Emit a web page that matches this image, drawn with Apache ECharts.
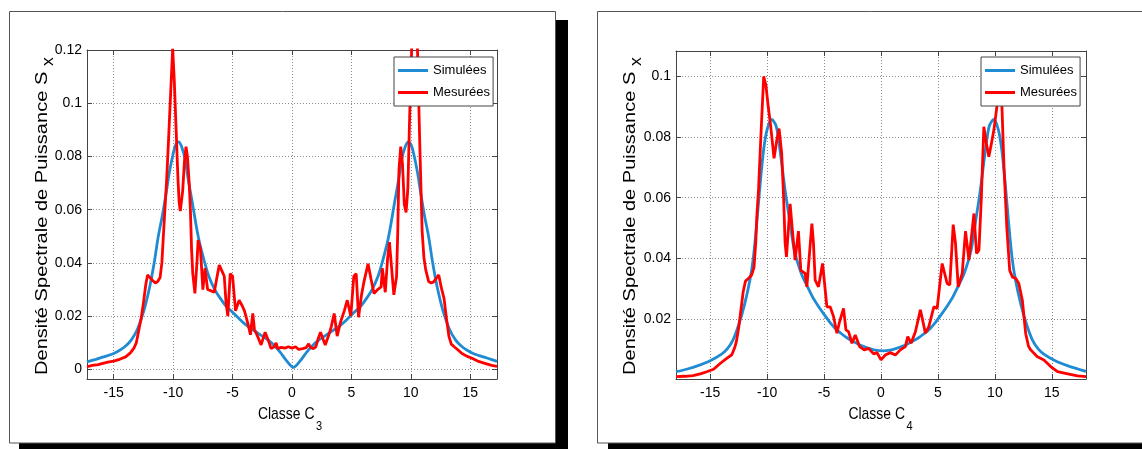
<!DOCTYPE html>
<html>
<head>
<meta charset="utf-8">
<script src="https://cdn.jsdelivr.net/npm/echarts@6/dist/echarts.min.js"></script>
<style>
html,body{margin:0;padding:0;background:#fff;}
#c{width:1142px;height:449px;}
</style>
</head>
<body>
<div id="c"></div>
<script>
// ---------- DATA ----------
const seriesNames = ['Simulées', 'Mesurées'];
const xTitleMain = 'Classe C';
const xTitleSubs = ['3', '4'];
const yTitleMain = 'Densité Spectrale de Puissance S';
const yTitleSub = 'x';

// Panel 1 (Classe C3) - simulated
const simX1 = [-17.25,-16.5,-16,-15.5,-15,-14.5,-14,-13.5,-13,-12.5,
  -12,-11.6,-11.25,-10.9,-10.6,-10.3,-10,-9.8,-9.56,-9.3,
  -9,-8.72,-8.4,-8.1,-7.8,-7.4,-7,-6.5,-6,-5.5,
  -5,-4.5,-4,-3.5,-3,-2.5,-2,-1.5,-1,-0.5,
  0.12,
  0.74,1.24,1.74,2.24,2.74,3.24,3.74,4.24,4.74,5.24,
  5.74,6.24,6.74,7.24,7.64,8.04,8.34,8.64,8.96,9.24,
  9.54,9.8,10.04,10.24,10.54,10.84,11.14,11.49,11.84,12.24,
  12.74,13.24,13.74,14.24,14.74,15.24,15.74,16.24,16.74,17.25];
const simY1 = [0.0028,0.0038,0.0045,0.0052,0.006,0.0072,0.0088,0.0112,0.0152,0.0215,
  0.0305,0.040,0.050,0.058,0.066,0.0745,0.081,0.0842,0.0855,0.0838,
  0.079,0.071,0.063,0.055,0.048,0.041,0.035,0.030,0.0265,0.0235,
  0.0215,0.0193,0.0172,0.0155,0.014,0.0125,0.011,0.009,0.0065,0.0035,
  0.0008,
  0.0035,0.0065,0.009,0.011,0.0125,0.014,0.0155,0.0172,0.0193,0.0215,
  0.0235,0.0265,0.030,0.035,0.041,0.048,0.055,0.063,0.071,0.079,
  0.0838,0.0855,0.0842,0.081,0.0745,0.066,0.058,0.050,0.040,0.0305,
  0.0215,0.0152,0.0112,0.0088,0.0072,0.006,0.0052,0.0045,0.0038,0.003];

// Panel 1 - measured
const mesX1 = [-17.25,-16.8,-16.3,-16.0,-15.5,-15.0,-14.5,-14.0,-13.6,-13.3,
  -13.1,-12.9,-12.7,-12.5,-12.3,-12.15,-11.95,-11.75,-11.5,-11.3,
  -11.1,-10.95,-10.8,-10.55,-10.4,-10.2,-10.04,-9.9,-9.75,-9.6,
  -9.5,-9.4,-9.3,-9.2,-9.05,-8.92,-8.8,-8.65,-8.55,-8.45,
  -8.35,-8.17,-8.0,-7.9,-7.7,-7.5,-7.32,-7.1,-6.8,-6.54,
  -6.3,-6.12,-5.9,-5.7,-5.55,-5.4,-5.2,-5.0,-4.75,-4.45,
  -4.2,-4.0,-3.7,-3.5,-3.3,-3.16,-2.9,-2.6,-2.26,-2.0,
  -1.76,-1.5,-1.34,-1.2,-0.9,-0.6,-0.3,0.0,0.3,0.56,
  0.9,1.2,1.4,1.55,1.8,2.0,2.2,2.4,2.6,2.8,
  3.1,3.3,3.55,3.8,4.1,4.4,4.65,4.95,5.2,5.4,
  5.6,5.85,6.05,6.4,6.65,6.9,7.2,7.5,7.6,7.85,
  8.05,8.2,8.33,8.57,8.8,8.9,9.0,9.15,9.3,9.45,
  9.6,9.75,9.9,10.1,10.3,10.55,10.75,10.95,11.1,11.25,
  11.5,11.7,11.9,12.1,12.35,12.55,12.8,13.0,13.2,13.4,
  13.65,14.0,14.3,14.7,15.15,15.7,16.3,16.8,17.25];
const mesY1 = [0.0010,0.0015,0.0018,0.0022,0.0027,0.0031,0.0038,0.0047,0.0062,0.0080,
  0.0100,0.0145,0.0190,0.0250,0.0320,0.0355,0.0345,0.0335,0.0325,0.0330,
  0.0345,0.0400,0.0520,0.0710,0.0850,0.1050,0.1205,0.1080,0.0900,0.0720,
  0.0630,0.0595,0.0600,0.0670,0.0780,0.0837,0.0800,0.0700,0.0600,0.0450,
  0.0360,0.0286,0.0400,0.0486,0.0450,0.0300,0.0380,0.0300,0.0295,0.0290,
  0.0350,0.0392,0.0370,0.0350,0.0250,0.0200,0.0360,0.0350,0.0220,0.0260,
  0.0240,0.0220,0.0170,0.0130,0.0210,0.0150,0.0125,0.0092,0.0140,0.0110,
  0.0078,0.0085,0.0100,0.0078,0.0083,0.0080,0.0085,0.0080,0.0085,0.0075,
  0.0078,0.0082,0.0096,0.0083,0.0078,0.0085,0.0115,0.0140,0.0115,0.0092,
  0.0130,0.0160,0.0210,0.0125,0.0180,0.0220,0.0260,0.0200,0.0350,0.0360,
  0.0196,0.0280,0.0328,0.0397,0.0340,0.0285,0.0300,0.0310,0.0380,0.0290,
  0.0420,0.0478,0.0485,0.0280,0.0350,0.0520,0.0750,0.0837,0.0770,0.0620,
  0.0590,0.0680,0.0950,0.1250,0.1400,0.1220,0.0850,0.0520,0.0420,0.0375,
  0.0330,0.0325,0.0328,0.0340,0.0355,0.0310,0.0265,0.0190,0.0125,0.0095,
  0.0085,0.0072,0.0060,0.0050,0.0042,0.0030,0.0022,0.0015,0.0011];

// Panel 2 (Classe C4) - simulated
const simX2 = [-18,-17,-16,-15,-14,-13.5,-13,-12.5,-12,-11.5,
  -11.2,-10.9,-10.6,-10.3,-10,-9.6,-9.2,-8.86,-8.42,-8,
  -7.6,-7,-6.5,-6,-5.5,-5,-4.5,-4,-3.5,-3,
  -2.5,-2,-1.5,-1,-0.5,0.15,
  0.8,1.3,1.8,2.3,2.8,3.3,3.8,4.3,4.8,5.3,
  5.8,6.3,6.8,7.3,7.9,8.3,8.72,9.16,9.5,9.9,
  10.3,10.6,10.9,11.2,11.5,11.8,12.3,12.8,13.3,13.8,
  14.3,15.3,16.3,17.3,18];
const simY2 = [0.0026,0.0035,0.0047,0.0062,0.0084,0.0101,0.0130,0.0180,0.0245,0.0330,
  0.0405,0.0520,0.0650,0.0760,0.0825,0.0858,0.0835,0.0755,0.0625,0.0520,
  0.0425,0.0350,0.0310,0.0272,0.0242,0.0215,0.0190,0.0168,0.0152,0.0138,
  0.0127,0.0117,0.0109,0.0102,0.0097,0.0095,
  0.0097,0.0102,0.0109,0.0117,0.0127,0.0138,0.0152,0.0168,0.0190,0.0215,
  0.0242,0.0272,0.0310,0.0350,0.0425,0.0520,0.0625,0.0755,0.0835,0.0858,
  0.0825,0.0760,0.0650,0.0520,0.0405,0.0330,0.0245,0.0180,0.0130,0.0101,
  0.0084,0.0062,0.0047,0.0035,0.0027];

// Panel 2 - measured
const mesX2 = [-18.0,-17.2,-16.5,-15.8,-15.3,-14.7,-14.1,-13.55,-13.1,-12.85,
  -12.7,-12.5,-12.3,-12.1,-11.9,-11.6,-11.36,-11.15,-11.0,-10.9,
  -10.75,-10.55,-10.3,-10.1,-9.9,-9.68,-9.39,-9.15,-8.95,-8.72,
  -8.55,-8.42,-8.3,-8.19,-7.98,-7.75,-7.54,-7.25,-7.04,-6.66,
  -6.51,-6.07,-5.93,-5.78,-5.49,-5.13,-4.75,-4.46,-4.17,-3.87,
  -3.67,-3.29,-3.08,-2.85,-2.55,-2.26,-1.88,-1.47,-1.09,-0.65,
  -0.35,0.0,0.38,0.82,1.26,1.7,2.14,2.35,2.64,3.02,
  3.46,3.9,4.2,4.64,4.93,5.37,5.81,6.04,6.34,6.54,
  6.78,7.13,7.42,7.72,8.16,8.39,8.6,8.8,9.03,9.25,
  9.47,9.7,9.91,10.21,10.45,10.62,10.8,11.05,11.3,11.55,
  11.83,12.1,12.41,12.7,12.95,13.15,13.7,14.3,14.9,15.5,
  16.4,17.25,18.0];
const mesY2 = [0.0010,0.0011,0.0013,0.0020,0.0026,0.0034,0.0054,0.0070,0.0082,0.0105,
  0.0125,0.0170,0.0230,0.0290,0.0325,0.0335,0.0345,0.0370,0.0450,0.0540,
  0.0630,0.0800,0.1000,0.0970,0.0900,0.0834,0.0730,0.0790,0.0828,0.0746,
  0.0600,0.0450,0.0405,0.0410,0.0580,0.0480,0.0394,0.0490,0.0360,0.0350,
  0.0306,0.0515,0.0450,0.0328,0.0306,0.0383,0.0240,0.0240,0.0208,0.0153,
  0.0186,0.0235,0.0164,0.0158,0.0120,0.0147,0.0109,0.0098,0.0103,0.0085,
  0.0089,0.0065,0.0081,0.0089,0.0081,0.0098,0.0109,0.0142,0.0120,0.0158,
  0.0230,0.0153,0.0175,0.0240,0.0235,0.0383,0.0317,0.0312,0.0511,0.0450,
  0.0306,0.0350,0.0490,0.0394,0.0548,0.0416,0.0427,0.0590,0.0834,0.0780,
  0.0735,0.0780,0.0823,0.0910,0.0990,0.0900,0.0700,0.0500,0.0360,0.0338,
  0.0334,0.0317,0.0262,0.0153,0.0110,0.0098,0.0076,0.0065,0.0043,0.0026,
  0.0019,0.0012,0.0010];

// ---------- STYLE ----------
const BLUE = '#1f8bd3';
const RED = '#ff0000';
const AXC = '#444';
const FONT = "'Liberation Sans',Arial,sans-serif";

const pairs = (xs, ys) => xs.map((x, i) => [x, ys[i]]);

const panels = [
  {left: 87, top: 50, width: 410, height: 329, xmin: -17.25, xmax: 17.25, ymin: -0.0036, ymax: 0.12, showMaxY: true},
  {left: 676, top: 51, width: 410, height: 328, xmin: -18, xmax: 18, ymin: 0.0002, ymax: 0.1084, showMaxY: false}
];

const grids = [], xAxes = [], yAxes = [];
panels.forEach((p, i) => {
  grids.push({left: p.left, top: p.top, width: p.width, height: p.height, containLabel: false, outerBoundsMode: 'none', show: false});
  const common = {
    type: 'value', gridIndex: i,
    axisLine: {show: true, onZero: false, lineStyle: {color: AXC, width: 1}},
    axisTick: {show: true, inside: true, length: 5, lineStyle: {color: AXC}},
    minorTick: {show: false}
  };
  xAxes.push(Object.assign({}, common, {
    position: 'bottom', min: p.xmin, max: p.xmax, splitNumber: 7,
    axisLabel: {show: true, margin: 7, color: '#000', fontSize: 14, fontFamily: FONT, showMinLabel: false, showMaxLabel: false},
    splitLine: {show: true, lineStyle: {color: '#8a8a8a', type: [1, 2], width: 1}}
  }));
  xAxes.push(Object.assign({}, common, {
    position: 'top', min: p.xmin, max: p.xmax, splitNumber: 7,
    axisLabel: {show: false}, splitLine: {show: false}
  }));
  yAxes.push(Object.assign({}, common, {
    position: 'left', min: p.ymin, max: p.ymax, splitNumber: 6,
    axisLabel: {show: true, margin: 5, color: '#000', fontSize: 14, fontFamily: FONT, showMinLabel: false, showMaxLabel: p.showMaxY},
    splitLine: {show: true, lineStyle: {color: '#8a8a8a', type: [1, 2], width: 1}}
  }));
  yAxes.push(Object.assign({}, common, {
    position: 'right', min: p.ymin, max: p.ymax, splitNumber: 6,
    axisLabel: {show: false}, splitLine: {show: false}
  }));
});

const datasets = [[simX1, simY1, mesX1, mesY1], [simX2, simY2, mesX2, mesY2]];
const series = [];
datasets.forEach((d, i) => {
  series.push({
    type: 'line', name: seriesNames[0], xAxisIndex: 2 * i, yAxisIndex: 2 * i,
    data: pairs(d[0], d[1]), symbol: 'none', showSymbol: false, smooth: 0.3,
    lineStyle: {color: BLUE, width: 2.8}, itemStyle: {color: BLUE}, clip: true, z: 2
  });
  series.push({
    type: 'line', name: seriesNames[1], xAxisIndex: 2 * i, yAxisIndex: 2 * i,
    data: pairs(d[2], d[3]), symbol: 'none', showSymbol: false,
    lineStyle: {color: RED, width: 2.8}, itemStyle: {color: RED}, clip: true, z: 3
  });
});

const legendBase = {
  orient: 'vertical', data: seriesNames, icon: 'rect', itemWidth: 30, itemHeight: 3,
  itemGap: 9, padding: [7, 3, 7, 4], backgroundColor: '#fff', borderColor: AXC, borderWidth: 1,
  borderRadius: 0, selectedMode: false, z: 10,
  textStyle: {fontFamily: FONT, fontSize: 13, color: '#000'}
};
const legends = [
  Object.assign({}, legendBase, {left: 394, top: 57}),
  Object.assign({}, legendBase, {left: 981, top: 57})
];

const xt = (x, y, txt, align, size, sx) => ({
  type: 'text', z: 50, x: x, y: y, scaleX: sx, scaleY: 1,
  style: {text: txt, textAlign: align, textVerticalAlign: 'middle', font: size + 'px ' + FONT, fill: '#000'}
});
const yt = (x, y, txt, size, sx) => ({
  type: 'text', z: 50, x: x, y: y, rotation: Math.PI / 2, scaleX: sx, scaleY: 1,
  style: {text: txt, textAlign: 'left', textVerticalAlign: 'middle', font: size + 'px ' + FONT, fill: '#000'}
});

const graphic = [
  // shadows
  {type: 'rect', z: -20, shape: {x: 556, y: 20, width: 12, height: 429}, style: {fill: '#000'}},
  {type: 'rect', z: -20, shape: {x: 19, y: 443, width: 549, height: 6}, style: {fill: '#000'}},
  {type: 'rect', z: -20, shape: {x: 608, y: 443, width: 534, height: 6}, style: {fill: '#000'}},
  // frames
  {type: 'rect', z: -10, shape: {x: 9.5, y: 11.5, width: 546, height: 431.5}, style: {fill: '#fff', stroke: '#555', lineWidth: 1}},
  {type: 'rect', z: -10, shape: {x: 597.5, y: 11.5, width: 560, height: 431.5}, style: {fill: '#fff', stroke: '#555', lineWidth: 1}},
  // x titles
  xt(314.5, 414, xTitleMain, 'right', 17, 0.82),
  xt(316, 426, xTitleSubs[0], 'left', 13, 0.85),
  xt(905, 414, xTitleMain, 'right', 17, 0.82),
  xt(906.5, 426, xTitleSubs[1], 'left', 13, 0.85),
  // y titles
  yt(42, 375, yTitleMain, 17, 1.18),
  yt(49, 66, yTitleSub, 16, 1.1),
  yt(630, 375, yTitleMain, 17, 1.18),
  yt(637, 66, yTitleSub, 16, 1.1)
];

const chart = echarts.init(document.getElementById('c'), null, {renderer: 'canvas'});
chart.setOption({
  animation: false,
  backgroundColor: '#fff',
  grid: grids,
  xAxis: xAxes,
  yAxis: yAxes,
  legend: legends,
  series: series,
  graphic: graphic
});
</script>
</body>
</html>
